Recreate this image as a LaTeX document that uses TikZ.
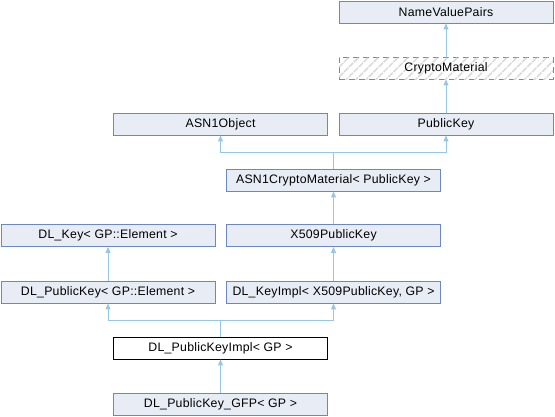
\documentclass[tikz,border=0pt]{standalone}
\usepackage{fontspec}
\setmainfont{Liberation Sans}[LetterSpace=2]
\usetikzlibrary{arrows.meta,patterns.meta}
\definecolor{boxfill}{RGB}{232,236,244}
\definecolor{boxdraw}{RGB}{108,136,196}
\definecolor{edgecol}{RGB}{150,200,230}
\definecolor{hatch}{RGB}{218,218,218}
\tikzset{
  lbl/.style={font=\fontsize{12.3}{14}\selectfont},
  cls/.style={lbl, draw=boxdraw, fill=boxfill, line width=0.8pt, minimum width=214pt, minimum height=22pt, inner sep=0pt},
  curcls/.style={cls, draw=black, fill=white},
  dashcls/.style={cls, fill=white, dash pattern=on 6pt off 4pt, postaction={pattern={Lines[angle=45,distance=7pt,line width=1.5pt]}, pattern color=hatch}},
  inh/.style={draw=edgecol, line width=0.9pt, -{Triangle[width=5pt,length=6pt]}}
}
\begin{document}
\begin{tikzpicture}[x=1pt,y=-1pt]
\useasboundingbox (0,0) rectangle (555,416);
\node[cls] (nvp) at (446,12) {NameValuePairs};
\node[dashcls] (cm) at (446,68) {};
\node[lbl] (cmtext) at (446,68) {CryptoMaterial};
\node[cls] (pk) at (446,124) {PublicKey};
\node[cls] (asn1o) at (220.5,124) {ASN1Object};
\node[cls] (asn1cm) at (333.5,180) {ASN1CryptoMaterial< PublicKey >};
\node[cls] (dlkey) at (108,235.5) {DL\_Key< GP::Element >};
\node[cls] (x509) at (333.5,235.5) {X509PublicKey};
\node[cls] (dlpk) at (108,292) {DL\_PublicKey< GP::Element >};
\node[cls] (dlki) at (333.5,292) {DL\_KeyImpl< X509PublicKey, GP >};
\node[curcls] (dlpki) at (220.5,348) {DL\_PublicKeyImpl< GP >};
\node[cls] (gfp) at (220.5,404) {DL\_PublicKey\_GFP< GP >};
\coordinate (j1) at (333.5,152);
\coordinate (j2) at (220.5,320);
\draw[inh] (cm.north) -- (nvp.south);
\draw[inh] (pk.north) -- (cm.south);
\draw[inh] (asn1cm.north) -- (j1) -| (asn1o.south);
\draw[inh] (asn1cm.north) -- (j1) -| (pk.south);
\draw[inh] (x509.north) -- (asn1cm.south);
\draw[inh] (dlpk.north) -- (dlkey.south);
\draw[inh] (dlki.north) -- (x509.south);
\draw[inh] (dlpki.north) -- (j2) -| (dlpk.south);
\draw[inh] (dlpki.north) -- (j2) -| (dlki.south);
\draw[inh] (gfp.north) -- (dlpki.south);
\end{tikzpicture}
\end{document}
